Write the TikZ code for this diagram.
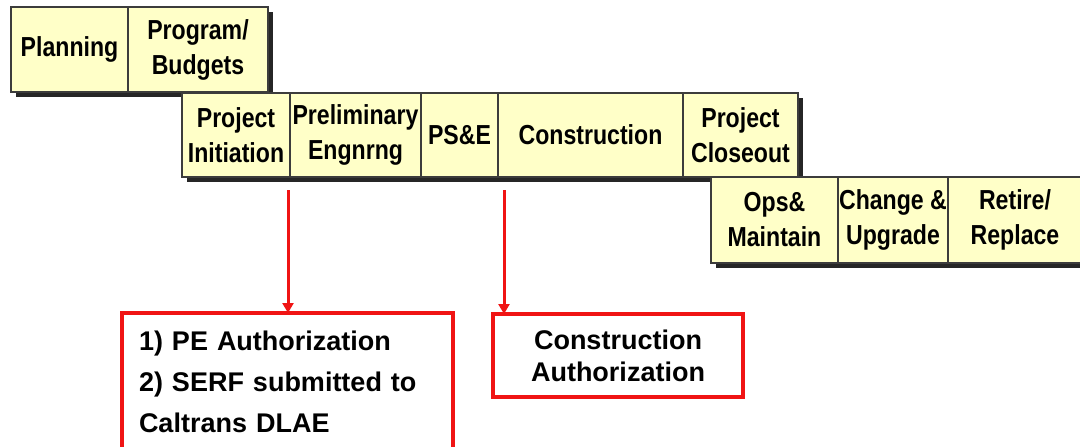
\documentclass[tikz,border=0pt]{standalone}
\usepackage{fontspec}
\setmainfont{Liberation Sans}
\newfontfamily\stagefont[FakeStretch=0.84]{Liberation Sans}
\usetikzlibrary{arrows.meta, positioning, shadows}
\definecolor{stagefill}{RGB}{255,255,200}
\definecolor{stageline}{RGB}{60,60,60}
\definecolor{authred}{RGB}{240,20,20}

\begin{document}
\begin{tikzpicture}[x=1pt, y=-1pt, node distance=0pt, >={Triangle[length=10pt, width=11pt]},
            stage/.style={rectangle, draw=stageline, line width=1.3pt, fill=stagefill, align=center,
                minimum height=85pt, inner sep=0pt, outer sep=0pt, font=\stagefont\bfseries\fontsize{27.5}{35}\selectfont,
                drop shadow={shadow xshift=5pt, shadow yshift=-5pt, fill=black!85, opacity=1}},
            auth/.style={rectangle, draw=authred, line width=4pt, fill=white, outer sep=0pt, font=\bfseries\fontsize{27}{41}\selectfont},
            flow/.style={->, draw=authred, fill=authred, line width=3pt}]
            \useasboundingbox (0,0) rectangle (1080,447);

            % Nodes
            \node[stage, minimum width=117pt, anchor=north west] (plan) at (11,7) {Planning};
            \node[stage, minimum width=140pt, right=of plan] (budget) {Program/\\Budgets};

            \node[stage, minimum width=108pt, minimum height=84pt, anchor=north west] (init) at (182,93) {Project\\Initiation};
            \node[stage, minimum width=131pt, minimum height=84pt, right=of init] (prelim) {Preliminary\\Engnrng};
            \node[stage, minimum width=77pt, minimum height=84pt, right=of prelim] (pse) {PS\&E};
            \node[stage, minimum width=185pt, minimum height=84pt, right=of pse] (constr) {Construction};
            \node[stage, minimum width=115pt, minimum height=84pt, right=of constr] (closeout) {Project\\Closeout};

            \node[stage, minimum width=127pt, minimum height=86pt, anchor=north west] (ops) at (711,177) {Ops\&\\Maintain};
            \node[stage, minimum width=110pt, minimum height=86pt, right=of ops] (upgrade) {Change \&\\Upgrade};
            \node[stage, minimum width=134pt, minimum height=86pt, right=of upgrade] (retire) {Retire/\\Replace};

            \node[auth, anchor=north west, text width=297pt, align=left, inner xsep=17pt, inner ysep=18pt, text depth=90pt] (authpe) at (122,313)
                {1) PE Authorization\\2) SERF submitted to\\Caltrans DLAE};
            \node[auth, anchor=north west, minimum width=250pt, minimum height=83pt, align=center,
                font=\bfseries\fontsize{27}{32}\selectfont] (authcon) at (493,314) {Construction\\Authorization};

            % Edges
            \coordinate (pefrom) at ([xshift=-2pt, yshift=-13pt]prelim.south west);
            \coordinate (confrom) at ([xshift=6pt, yshift=-13pt]constr.south west);
            \draw[flow] (pefrom) -- (pefrom |- authpe.north);
            \draw[flow] (confrom) -- (confrom |- authcon.north);
\end{tikzpicture}
\end{document}
